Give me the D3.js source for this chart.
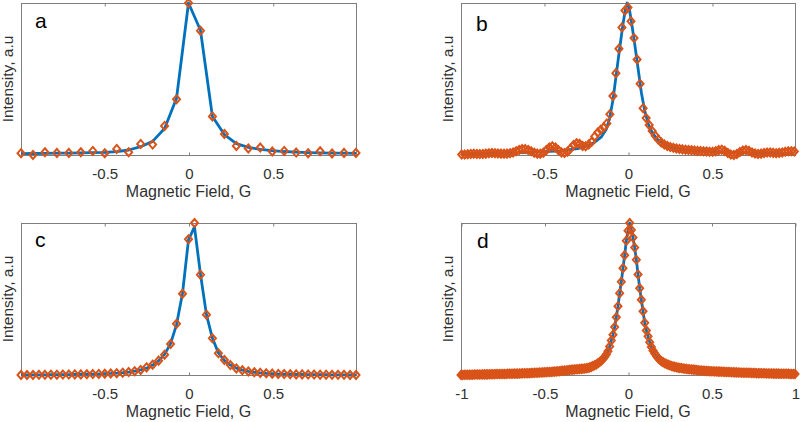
<!DOCTYPE html>
<html>
<head>
<meta charset="utf-8">
<script src="https://cdn.jsdelivr.net/npm/d3@7/dist/d3.min.js"></script>
<style>
  body { margin: 0; background: #fff; }
  svg text { font-family: "Liberation Sans", Arial, Helvetica, sans-serif; }
</style>
</head>
<body>
<div id="chart"></div>
<script>
// sampling grids (start, step) of the field axis, in G
const aStart = -0.994, aStep = 0.071;
const bStart = -0.99, bStep = 0.018;
const cStart = -0.994, cStep = 0.0355;
const dStart = -1, dStep = 0.01;

// panel a: measured intensity and fitted curve
const aData = [0.007, -0.005, 0.013, 0.009, 0.009, 0.013, 0.022, 0.007, 0.035, 0.013,
  0.068, 0.064, 0.187, 0.364, 1.0, 0.817, 0.25, 0.134, 0.055, 0.038,
  0.044, 0.018, 0.022, 0.011, 0.007, 0.02, 0.005, 0.009, 0.009];
const aFit = [0.004, 0.005, 0.006, 0.007, 0.008, 0.009, 0.011, 0.013, 0.017, 0.028,
  0.05, 0.085, 0.17, 0.37, 1.0, 0.82, 0.25, 0.13, 0.07, 0.045,
  0.032, 0.024, 0.018, 0.014, 0.011, 0.009, 0.008, 0.007, 0.006];

// panel b: noisy measurement, fit given on its own field points
const bData = [0.006, 0.006, 0.008, 0.010, 0.011, 0.010, 0.009, 0.010, 0.012, 0.014,
  0.016, 0.015, 0.013, 0.012, 0.011, 0.012, 0.015, 0.020, 0.028, 0.036,
  0.042, 0.042, 0.036, 0.027, 0.018, 0.012, 0.011, 0.018, 0.035, 0.052,
  0.060, 0.052, 0.035, 0.020, 0.016, 0.025, 0.045, 0.068, 0.080, 0.076,
  0.062, 0.060, 0.072, 0.090, 0.125, 0.150, 0.168, 0.185, 0.210, 0.270,
  0.390, 0.540, 0.700, 0.840, 0.950, 0.970, 0.880, 0.770, 0.630, 0.470,
  0.310, 0.245, 0.200, 0.160, 0.130, 0.105, 0.085, 0.072, 0.062, 0.055,
  0.050, 0.046, 0.043, 0.040, 0.038, 0.036, 0.034, 0.032, 0.030, 0.029,
  0.027, 0.026, 0.024, 0.024, 0.028, 0.035, 0.038, 0.030, 0.016, 0.006,
  0.003, 0.010, 0.022, 0.032, 0.036, 0.030, 0.020, 0.013, 0.010, 0.012,
  0.016, 0.019, 0.020, 0.017, 0.015, 0.017, 0.020, 0.024, 0.027, 0.028,
  0.026];
const bFitField = [-0.99, -0.6, -0.4, -0.3, -0.25, -0.2, -0.16, -0.13, -0.11, -0.09,
  -0.07, -0.05, -0.03, -0.015, -0.005, 0.005, 0.02, 0.04, 0.06, 0.08,
  0.1, 0.12, 0.14, 0.17, 0.2, 0.25, 0.3, 0.4, 0.6, 0.99];
const bFit = [0.01, 0.02, 0.03, 0.045, 0.06, 0.085, 0.12, 0.17, 0.24, 0.36,
  0.53, 0.70, 0.86, 0.96, 1.0, 0.98, 0.88, 0.73, 0.57, 0.41,
  0.29, 0.21, 0.16, 0.11, 0.085, 0.06, 0.045, 0.03, 0.02, 0.01];

// panel c
const cData = [0.005, 0.005, 0.005, 0.006, 0.006, 0.007, 0.007, 0.008, 0.008, 0.009,
  0.009, 0.010, 0.011, 0.012, 0.013, 0.015, 0.017, 0.020, 0.024, 0.030,
  0.038, 0.055, 0.072, 0.099, 0.138, 0.208, 0.340, 0.537, 0.893, 1.000,
  0.662, 0.400, 0.245, 0.147, 0.103, 0.070, 0.048, 0.036, 0.028, 0.023,
  0.019, 0.016, 0.014, 0.012, 0.011, 0.010, 0.009, 0.009, 0.008, 0.008,
  0.007, 0.007, 0.006, 0.006, 0.006, 0.005, 0.005];
const cFit = [0.005, 0.005, 0.006, 0.006, 0.006, 0.007, 0.007, 0.008, 0.008, 0.009,
  0.010, 0.010, 0.011, 0.012, 0.014, 0.015, 0.017, 0.020, 0.024, 0.030,
  0.038, 0.050, 0.070, 0.098, 0.140, 0.210, 0.335, 0.540, 0.890, 0.975,
  0.665, 0.400, 0.245, 0.150, 0.100, 0.070, 0.050, 0.037, 0.029, 0.023,
  0.019, 0.016, 0.014, 0.012, 0.011, 0.010, 0.009, 0.009, 0.008, 0.008,
  0.007, 0.007, 0.006, 0.006, 0.006, 0.005, 0.005];

// panel d: dense scan, the line follows the same points
const dData = [0.010, 0.010, 0.011, 0.011, 0.011, 0.012, 0.012, 0.012, 0.013, 0.013,
  0.013, 0.013, 0.013, 0.014, 0.014, 0.014, 0.014, 0.015, 0.015, 0.015,
  0.015, 0.016, 0.016, 0.016, 0.016, 0.017, 0.017, 0.017, 0.018, 0.018,
  0.018, 0.018, 0.019, 0.019, 0.019, 0.020, 0.020, 0.021, 0.021, 0.022,
  0.022, 0.022, 0.023, 0.023, 0.024, 0.024, 0.025, 0.026, 0.026, 0.027,
  0.028, 0.028, 0.029, 0.030, 0.030, 0.031, 0.032, 0.033, 0.034, 0.035,
  0.037, 0.038, 0.039, 0.040, 0.041, 0.043, 0.044, 0.045, 0.046, 0.047,
  0.048, 0.049, 0.050, 0.051, 0.052, 0.054, 0.056, 0.059, 0.063, 0.068,
  0.073, 0.079, 0.086, 0.094, 0.103, 0.114, 0.127, 0.143, 0.164, 0.196,
  0.235, 0.272, 0.322, 0.386, 0.458, 0.543, 0.617, 0.706, 0.790, 0.885,
  0.950, 1.000, 0.955, 0.905, 0.840, 0.760, 0.665, 0.575, 0.500, 0.425,
  0.350, 0.300, 0.262, 0.224, 0.193, 0.168, 0.150, 0.134, 0.120, 0.110,
  0.100, 0.093, 0.087, 0.082, 0.077, 0.073, 0.069, 0.066, 0.063, 0.060,
  0.058, 0.056, 0.055, 0.053, 0.051, 0.050, 0.048, 0.047, 0.046, 0.045,
  0.044, 0.043, 0.041, 0.040, 0.039, 0.038, 0.037, 0.036, 0.036, 0.035,
  0.034, 0.034, 0.033, 0.033, 0.032, 0.032, 0.031, 0.031, 0.030, 0.030,
  0.029, 0.029, 0.028, 0.028, 0.027, 0.027, 0.026, 0.026, 0.025, 0.025,
  0.025, 0.024, 0.024, 0.024, 0.023, 0.023, 0.023, 0.022, 0.022, 0.022,
  0.021, 0.021, 0.021, 0.020, 0.020, 0.020, 0.020, 0.019, 0.019, 0.019,
  0.019, 0.018, 0.018, 0.018, 0.018, 0.018, 0.018, 0.017, 0.017, 0.017,
  0.017];

const ticksShort = [-0.5, 0, 0.5];
const ticksFull = [-1, -0.5, 0, 0.5, 1];

const blue = '#0072BD';
const orange = '#D95319';
const boxColor = '#7f7f7f';
const textColor = '#303030';

const svg = d3.select('#chart')
  .append('svg')
  .attr('width', 800)
  .attr('height', 422);

svg.append('rect').attr('width', 800).attr('height', 422).attr('fill', '#fff');

// attach field values to each intensity array
const onGrid = (vals, start, step) => vals.map((v, i) => ({ x: start + i * step, y: v }));
const paired = (xs, vals) => vals.map((v, i) => ({ x: xs[i], y: v }));

function drawPanel({ left, top, width, height, domain, ticks, data, fit, letter, letterPos }) {
  const g = svg.append('g').attr('transform', `translate(${left}, ${top})`);

  const xScale = d3.scaleLinear().domain(domain).range([0, width]);
  const all = data.concat(fit);
  const yScale = d3.scaleLinear().domain(d3.extent(all, (d) => d.y)).range([height, 0]);

  // box
  g.append('rect')
    .attr('x', 0.5)
    .attr('y', 0.5)
    .attr('width', width)
    .attr('height', height)
    .attr('fill', 'none')
    .attr('stroke', boxColor)
    .attr('stroke-width', 1);

  // bottom axis, ticks pointing in
  const xAxis = d3.axisBottom(xScale)
    .tickValues(ticks)
    .tickSizeInner(-3)
    .tickSizeOuter(0)
    .tickPadding(13)
    .tickFormat((d) => (d === 0 ? '0' : String(d)));
  const xg = g.append('g')
    .attr('transform', `translate(0.5, ${height + 0.5})`)
    .call(xAxis);
  xg.select('.domain').remove();
  xg.selectAll('line').attr('stroke', boxColor);
  xg.selectAll('text')
    .attr('fill', textColor)
    .style('font-size', '15px')
    .style('font-family', '"Liberation Sans", Arial, sans-serif');

  // top axis, ticks only
  const topAxis = d3.axisTop(xScale)
    .tickValues(ticks)
    .tickSizeInner(-3)
    .tickSizeOuter(0)
    .tickFormat('');
  const tg = g.append('g').attr('transform', 'translate(0.5, 0.5)').call(topAxis);
  tg.select('.domain').remove();
  tg.selectAll('line').attr('stroke', boxColor);

  // fitted line
  const line = d3.line().x((d) => xScale(d.x)).y((d) => yScale(d.y));
  g.append('path')
    .datum(fit)
    .attr('d', line)
    .attr('fill', 'none')
    .attr('stroke', blue)
    .attr('stroke-width', 2.8)
    .attr('stroke-linejoin', 'round');

  // measured points as hollow diamonds
  g.selectAll('.pt')
    .data(data)
    .join('path')
    .attr('class', 'pt')
    .attr('transform', (d) => `translate(${xScale(d.x)}, ${yScale(d.y)})`)
    .attr('d', 'M0,-4L3.5,0L0,4L-3.5,0Z')
    .attr('fill', 'none')
    .attr('stroke', orange)
    .attr('stroke-width', 2);

  // axis titles
  g.append('text')
    .attr('x', width / 2)
    .attr('y', height + 41.5)
    .attr('text-anchor', 'middle')
    .attr('fill', textColor)
    .style('font-size', '16px')
    .text('Magnetic Field, G');

  g.append('text')
    .attr('transform', `translate(-8, ${height / 2}) rotate(-90)`)
    .attr('text-anchor', 'middle')
    .attr('fill', textColor)
    .style('font-size', '15.5px')
    .text('Intensity, a.u');

  // panel letter
  g.append('text')
    .attr('x', letterPos[0])
    .attr('y', letterPos[1])
    .attr('fill', '#000')
    .style('font-size', '21px')
    .text(letter);
}

drawPanel({
  left: 21, top: 3, width: 335, height: 152,
  domain: [-0.994, 0.994], ticks: ticksShort,
  data: onGrid(aData, aStart, aStep), fit: onGrid(aFit, aStart, aStep),
  letter: 'a', letterPos: [14, 25]
});

drawPanel({
  left: 461, top: 3, width: 334, height: 152,
  domain: [-0.994, 0.994], ticks: ticksShort,
  data: onGrid(bData, bStart, bStep), fit: paired(bFitField, bFit),
  letter: 'b', letterPos: [15, 28]
});

drawPanel({
  left: 21, top: 223, width: 335, height: 152,
  domain: [-0.994, 0.994], ticks: ticksShort,
  data: onGrid(cData, cStart, cStep), fit: onGrid(cFit, cStart, cStep),
  letter: 'c', letterPos: [14, 24]
});

drawPanel({
  left: 461, top: 223, width: 334, height: 152,
  domain: [-1, 1], ticks: ticksFull,
  data: onGrid(dData, dStart, dStep), fit: onGrid(dData, dStart, dStep),
  letter: 'd', letterPos: [16, 25]
});
</script>
</body>
</html>
